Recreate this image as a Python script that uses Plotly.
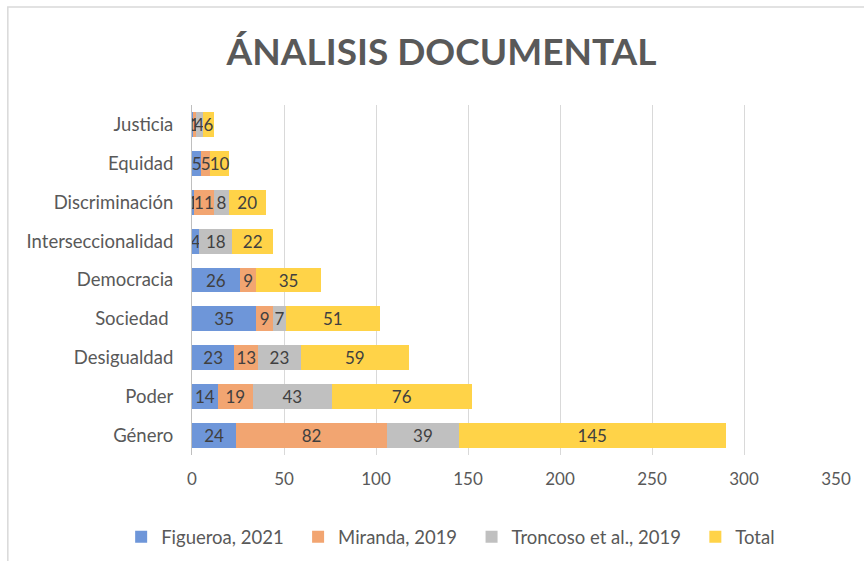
import plotly.graph_objects as go

categories = ["Género", "Poder", "Desigualdad", "Sociedad ", "Democracia",
              "Interseccionalidad", "Discriminación", "Equidad", "Justicia"]
figueroa = [24, 14, 23, 35, 26, 4, 1, 5, 1]
miranda = [82, 19, 13, 9, 9, 0, 11, 5, 1]
troncoso = [39, 43, 23, 7, 0, 18, 8, 0, 4]
total = [145, 76, 59, 51, 35, 22, 20, 10, 6]
x_ticks = [0, 50, 100, 150, 200, 250, 300, 350]
series_names = ["Figueroa, 2021", "Miranda, 2019", "Troncoso et al., 2019", "Total"]

series = [
    (series_names[0], figueroa, "#6E96D9"),
    (series_names[1], miranda, "#F2A571"),
    (series_names[2], troncoso, "#C0C0C0"),
    (series_names[3], total, "#FFD348"),
]

FONT = "Lato"
PAD = "\u00a0\u00a0"
fig = go.Figure()
for i, (name, vals, col) in enumerate(series):
    fig.add_trace(go.Bar(
        y=categories, x=vals, name=name + (PAD if i < len(series) - 1 else ""),
        orientation="h",
        marker=dict(color=col, line=dict(width=0)),
        text=[str(v) for v in vals], textposition="inside",
        insidetextanchor="middle", textangle=0,
        textfont=dict(family=FONT, size=17, color="#404040"),
    ))

fig.update_layout(
    width=864, height=561,
    barmode="stack", bargap=0.36,
    paper_bgcolor="white", plot_bgcolor="white",
    margin=dict(l=192, r=28, t=105, b=106, autoexpand=False),
    font=dict(family=FONT, size=17, color="#595959"),
    title=dict(text="<b>ÁNALISIS DOCUMENTAL</b>", x=0.511, xref="container", xanchor="center",
               y=0.908, yref="container", yanchor="middle",
               font=dict(family=FONT, size=37, color="#595959")),
    uniformtext=dict(minsize=17, mode="show"),
    legend=dict(orientation="h", x=-0.11, xanchor="left", y=-0.235, yanchor="middle",
                font=dict(family=FONT, size=18.5, color="#595959"),
                traceorder="normal", itemwidth=30),
    showlegend=True,
)
fig.update_xaxes(range=[0, 350], tickvals=x_ticks, showgrid=True, gridcolor="#D9D9D9",
                 gridwidth=1, zeroline=False, showline=False, ticks="", automargin=False,
                 ticklabelstandoff=12,
                 tickfont=dict(family=FONT, size=17, color="#595959"))
fig.update_yaxes(showline=True, linecolor="#BFBFBF", linewidth=1, ticks="", automargin=False,
                 ticklabelstandoff=14, categoryorder="array", categoryarray=categories,
                 tickfont=dict(family=FONT, size=18.5, color="#595959"))
fig.add_shape(type="rect", xref="paper", yref="paper",
              x0=-0.286, x1=1.1, y0=-0.35, y1=1.28,
              line=dict(color="#D9D9D9", width=1.5), fillcolor="rgba(0,0,0,0)", layer="below")
fig.write_html("out.html", config={"displayModeBar": False},
               post_script="document.body.style.margin='0';")
